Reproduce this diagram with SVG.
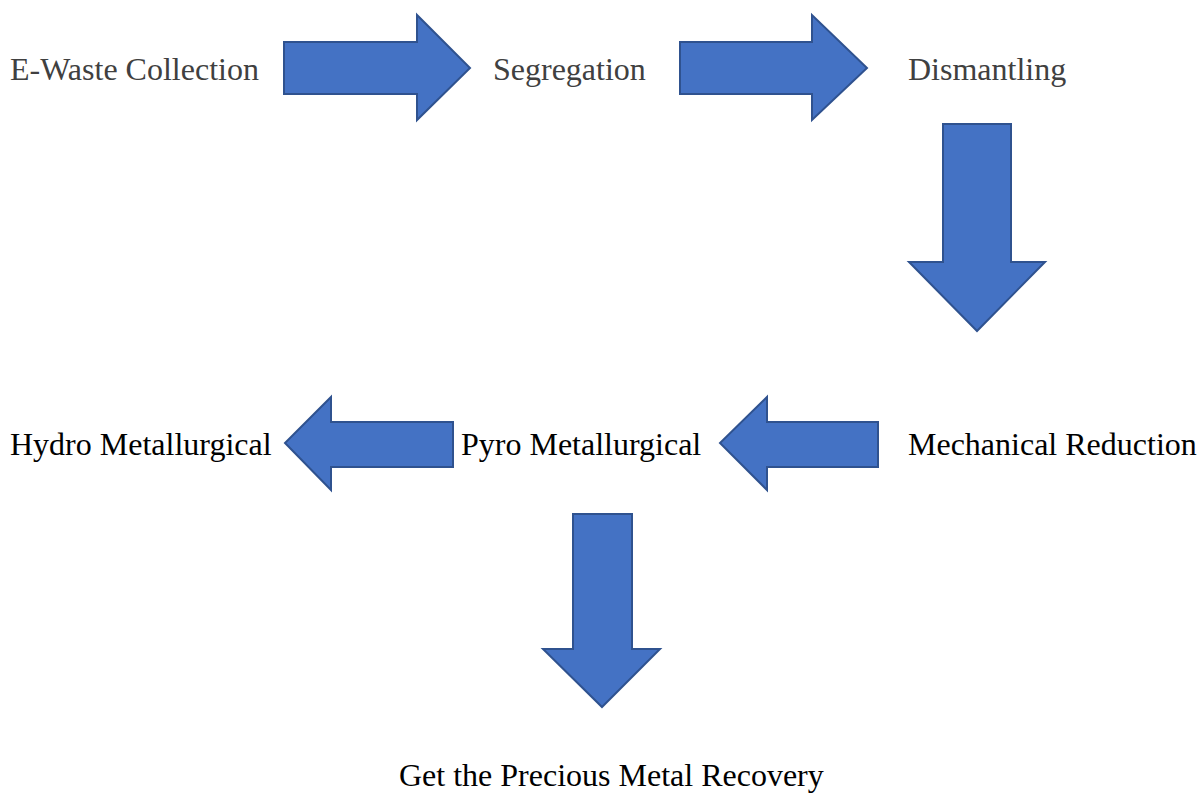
<svg xmlns="http://www.w3.org/2000/svg" width="1200" height="794" viewBox="0 0 1200 794">
<style>
.arrow{fill:#4472C4;stroke:#2F528F;stroke-width:2;stroke-linejoin:miter}
.t{font-family:"Liberation Serif","Times New Roman",serif;font-size:32px}
.g{fill:#404040}
.k{fill:#000}
</style>
<rect width="1200" height="794" fill="#fff"/>
<g id="connectors">
<polygon class="arrow" points="284,42 417,42 417,15 470,68 417,120 417,94 284,94"/>
<polygon class="arrow" points="680,42 812,42 812,15 867,68 812,120 812,94 680,94"/>
<polygon class="arrow" points="943,124 1011,124 1011,262 1045,262 977,331 909,262 943,262"/>
<polygon class="arrow" points="878,422 767,422 767,397 720,443 767,490 767,467 878,467"/>
<polygon class="arrow" points="453,422 331,422 331,397 285,443 331,490 331,467 453,467"/>
<polygon class="arrow" points="573,514 632,514 632,649 660,649 602,707 543,649 573,649"/>
</g>
<g id="n1"><text class="t g" x="10" y="80">E-Waste Collection</text></g>
<g id="n2"><text class="t g" x="493" y="80">Segregation</text></g>
<g id="n3"><text class="t g" x="908" y="80">Dismantling</text></g>
<g id="n4"><text class="t k" x="908" y="455">Mechanical Reduction</text></g>
<g id="n5"><text class="t k" x="461" y="455">Pyro Metallurgical</text></g>
<g id="n6"><text class="t k" x="10" y="455">Hydro Metallurgical</text></g>
<g id="n7"><text class="t k" x="399" y="786">Get the Precious Metal Recovery</text></g>
</svg>
